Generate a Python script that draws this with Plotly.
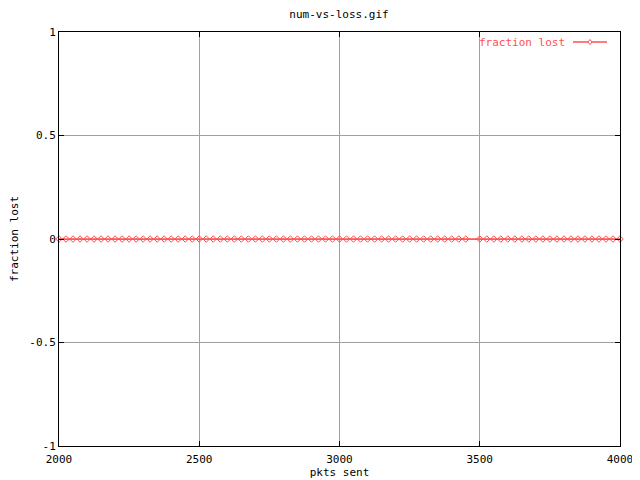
import plotly.graph_objects as go

# data: packets sent vs fraction lost (point at 3475 missing in the reference)
pkts_sent = [2000 + 25 * i for i in range(81) if 2000 + 25 * i != 3475]
fraction_lost = [0.0 for _ in pkts_sent]

x_ticks = [2000, 2500, 3000, 3500, 4000]
y_ticks = [-1, -0.5, 0, 0.5, 1]
y_tick_text = ["-1", "-0.5", "0", "0.5", "1"]

RED = "#ff5050"
FONT = "DejaVu Sans Mono"

fig = go.Figure()
fig.add_trace(go.Scatter(
    x=pkts_sent, y=fraction_lost, mode="lines+markers",
    name="fraction lost",
    line=dict(color=RED, width=1.3),
    marker=dict(symbol="diamond-open", size=5, color=RED, line=dict(width=1, color=RED)),
    showlegend=False,
    cliponaxis=False,
))

axis_common = dict(
    showline=True, linecolor="black", linewidth=1, mirror="allticks",
    ticks="inside", ticklen=5, tickcolor="black",
    showgrid=True, gridcolor="#a0a0a0", gridwidth=1,
    zeroline=False, automargin=False,
    tickfont=dict(family=FONT, size=11, color="black"),
)

fig.update_xaxes(range=[2000, 4000], tickvals=x_ticks, ticktext=[str(v) for v in x_ticks],
                 title=dict(text="pkts sent", font=dict(family=FONT, size=11, color="black"), standoff=2),
                 ticklabelstandoff=3,
                 **axis_common)
fig.update_yaxes(range=[-1, 1], tickvals=y_ticks, ticktext=y_tick_text,
                 title=dict(text="fraction lost", font=dict(family=FONT, size=11, color="black"), standoff=16),
                 **axis_common)

LEG_Y = (446 - 42) / 414
fig.add_annotation(x=(567 - 59) / 561, y=LEG_Y, xref="x domain", yref="y domain",
                   text="fraction lost", showarrow=False, xanchor="right", yanchor="middle",
                   font=dict(family=FONT, size=11, color=RED))
fig.add_shape(type="line", xref="x domain", yref="y domain",
              x0=(573 - 59) / 561, x1=(607 - 59) / 561, y0=LEG_Y, y1=LEG_Y,
              line=dict(color=RED, width=1.3))
fig.add_shape(type="path", xref="x domain", yref="y domain",
              path="M {a},{m} L {b},{t} L {c},{m} L {b},{u} Z".format(
                  a=(588 - 59) / 561, b=(590 - 59) / 561, c=(592 - 59) / 561,
                  m=LEG_Y, t=(446 - 39.5) / 414, u=(446 - 44.5) / 414),
              line=dict(color=RED, width=1), fillcolor="white")

# the page body adds an 8px offset, so the figure is laid out shifted by -8px
fig.update_layout(
    width=640, height=480,
    margin=dict(l=51, r=28, t=24, b=42, autoexpand=False),
    paper_bgcolor="white", plot_bgcolor="white",
    title=dict(text="num-vs-loss.gif", x=(339 - 8) / 640, xanchor="center", y=1 - 6 / 480, yanchor="middle",
               font=dict(family=FONT, size=11, color="black")),
    font=dict(family=FONT, size=11, color="black"),
)

fig.write_html("out.html")
